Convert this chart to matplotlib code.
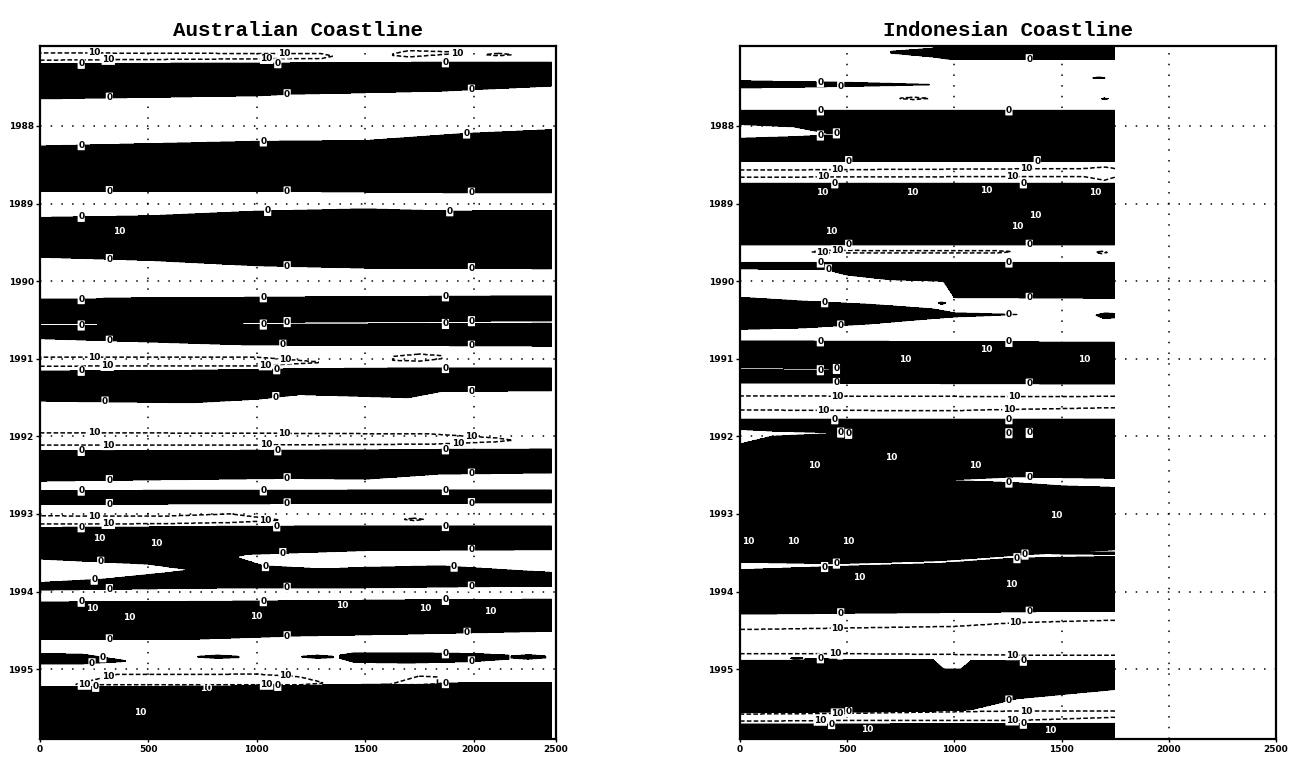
import numpy as np
import matplotlib
matplotlib.use("Agg")
import matplotlib.pyplot as plt

# ---------------------------------------------------------------- data
years = [1988, 1989, 1990, 1991, 1992, 1993, 1994, 1995]
x_grid_vals = [500, 1000, 1500, 2000]
x_tick_labels = ["0", "500", "1000", "1500", "2000", "2500"]

# Each feature: (x nodes, upper time edge, lower time edge)
# ---- Australian coastline
aus_xmax = 2360
aus_black = [
    ([0, 1000, 1150, 1850, 2360], [1987.20, 1987.19, 1987.19, 1987.18, 1987.18], [1987.65, 1987.61, 1987.59, 1987.55, 1987.485]),
    ([0, 1000, 1500, 1950, 2360], [1988.26, 1988.20, 1988.19, 1988.10, 1988.05], [1988.84, 1988.84, 1988.85, 1988.86, 1988.86]),
    ([0, 500, 1000, 1500, 1900, 2360], [1989.18, 1989.16, 1989.10, 1989.07, 1989.10, 1989.09], [1989.69, 1989.73, 1989.80, 1989.83, 1989.83, 1989.84]),
    ([0, 260, 300, 900, 940, 2360], [1990.23, 1990.23, 1990.22, 1990.21, 1990.21, 1990.19], [1990.54, 1990.54, 1990.60, 1990.60, 1990.53, 1990.51]),
    ([0, 950, 2360], [1990.575, 1990.56, 1990.545], [1990.74, 1990.82, 1990.835]),
    ([0, 700, 1000, 1200, 1700, 1850, 2360], [1991.16, 1991.15, 1991.14, 1991.13, 1991.12, 1991.12, 1991.12], [1991.545, 1991.565, 1991.52, 1991.46, 1991.50, 1991.42, 1991.41]),
    ([0, 1150, 1500, 1840, 2360], [1992.19, 1992.18, 1992.175, 1992.17, 1992.165], [1992.575, 1992.54, 1992.55, 1992.485, 1992.47]),
    ([0, 2360], [1992.70, 1992.69], [1992.875, 1992.855]),
    ([0, 500, 700, 760, 850, 900, 950, 1500, 2360], [1993.175, 1993.17, 1993.165, 1993.165, 1993.16, 1993.16, 1993.16, 1993.155, 1993.155], [1993.58, 1993.645, 1993.72, 1993.78, 1993.78, 1993.555, 1993.52, 1993.47, 1993.46]),
    ([0, 300, 600, 700, 760, 850, 900, 950, 1030, 1300, 1500, 1850, 2230, 2360], [1993.885, 1993.84, 1993.755, 1993.72, 1993.68, 1993.58, 1993.555, 1993.60, 1993.67, 1993.71, 1993.69, 1993.67, 1993.735, 1993.755], [1993.98, 1993.97, 1993.96, 1993.96, 1993.96, 1993.95, 1993.95, 1993.95, 1993.95, 1993.95, 1993.95, 1993.94, 1993.93, 1993.93]),
    ([0, 680, 1200, 1680, 2360], [1994.135, 1994.13, 1994.12, 1994.11, 1994.10], [1994.615, 1994.615, 1994.57, 1994.547, 1994.51]),
    ([0, 200, 390], [1994.80, 1994.81, 1994.89], [1994.93, 1994.93, 1994.90]),
    ([730, 820, 915], [1994.835, 1994.82, 1994.835], [1994.845, 1994.86, 1994.85]),
    ([1210, 1280, 1350], [1994.835, 1994.82, 1994.835], [1994.845, 1994.86, 1994.85]),
    ([1385, 1450, 1700, 2000, 2160], [1994.82, 1994.79, 1994.79, 1994.80, 1994.82], [1994.86, 1994.91, 1994.92, 1994.90, 1994.87]),
    ([2175, 2250, 2330], [1994.83, 1994.815, 1994.83], [1994.855, 1994.87, 1994.855]),
    ([0, 1100, 2000, 2360], [1995.23, 1995.215, 1995.175, 1995.175], [1996.2, 1996.2, 1996.2, 1996.2]),
]
aus_white = []
aus_trough = [
    ([0, 100, 1300, 1350], [1987.06, 1987.06, 1987.07, 1987.10], [1987.15, 1987.15, 1987.13, 1987.10]),
    ([1630, 1700, 1950], [1987.07, 1987.03, 1987.05], [1987.09, 1987.11, 1987.06]),
    ([2050, 2115, 2180], [1987.08, 1987.065, 1987.08], [1987.08, 1987.095, 1987.08]),
    ([0, 1000, 1280], [1990.98, 1990.98, 1991.04], [1991.095, 1991.09, 1991.05]),
    ([1630, 1750, 1850], [1990.97, 1990.94, 1990.96], [1991.02, 1991.03, 1991.00]),
    ([0, 1000, 1800, 2100, 2180], [1991.955, 1991.96, 1991.97, 1992.02, 1992.05], [1992.11, 1992.11, 1992.10, 1992.07, 1992.05]),
    ([0, 555, 880, 1110], [1993.025, 1993.03, 1993.00, 1993.08], [1993.13, 1993.125, 1993.11, 1993.08]),
    ([1680, 1725, 1770], [1993.07, 1993.055, 1993.07], [1993.07, 1993.085, 1993.07]),
    ([170, 350, 1000, 1200, 1300], [1995.19, 1995.07, 1995.065, 1995.10, 1995.17], [1995.20, 1995.20, 1995.20, 1995.20, 1995.18]),
    ([1620, 1750, 1830], [1995.19, 1995.09, 1995.10], [1995.20, 1995.20, 1995.19]),
]
aus_hot = [(370, 1989.40), (277, 1993.36), (540, 1993.42), (221, 1994.26), (415, 1994.38),
           (1000, 1994.36), (1398, 1994.22), (1780, 1994.26), (2076, 1994.30), (770, 1995.30),
           (461, 1995.60)]

# ---- Indonesian coastline
indo_xmax = 1749
indo_black = [
    ([700, 900, 980, 1749], [1987.04, 1987.00, 1986.80, 1986.80], [1987.06, 1987.11, 1987.14, 1987.14]),
    ([0, 500, 880], [1987.42, 1987.44, 1987.465], [1987.51, 1987.49, 1987.47]),
    ([1640, 1675, 1710], [1987.38, 1987.37, 1987.38], [1987.38, 1987.39, 1987.38]),
    ([1685, 1700, 1715], [1987.65, 1987.64, 1987.65], [1987.65, 1987.66, 1987.65]),
    ([0, 1749], [1987.80, 1987.80], [1988.45, 1988.45]),
    ([0, 1749], [1988.74, 1988.74], [1989.53, 1989.53]),
    ([0, 400, 500, 700, 950, 1000, 1749], [1989.76, 1989.76, 1989.76, 1989.76, 1989.76, 1989.76, 1989.76], [1989.84, 1989.85, 1989.92, 1989.98, 1990.00, 1990.21, 1990.22]),
    ([0, 300, 600, 900, 1000, 1290], [1990.21, 1990.26, 1990.30, 1990.36, 1990.41, 1990.43], [1990.62, 1990.60, 1990.55, 1990.48, 1990.46, 1990.43]),
    ([1660, 1700, 1749], [1990.44, 1990.41, 1990.42], [1990.44, 1990.48, 1990.47]),
    ([925, 940, 960], [1990.28, 1990.27, 1990.28], [1990.28, 1990.30, 1990.28]),
    ([0, 1749], [1990.77, 1990.79], [1991.31, 1991.325]),
    ([0, 435, 933, 1290, 1749], [1991.78, 1991.78, 1991.78, 1991.78, 1991.78], [1993.62, 1993.64, 1993.60, 1993.53, 1993.46]),
    ([1270, 1500, 1749], [1993.49, 1993.49, 1993.49], [1993.49, 1993.515, 1993.52]),
    ([0, 435, 933, 1290, 1749], [1993.72, 1993.68, 1993.64, 1993.57, 1993.55], [1994.29, 1994.28, 1994.27, 1994.26, 1994.25]),
    ([230, 260, 300], [1994.86, 1994.85, 1994.86], [1994.86, 1994.87, 1994.86]),
    ([300, 380, 450], [1994.87, 1994.86, 1994.87], [1994.87, 1994.885, 1994.87]),
    ([0, 600, 900, 950, 1030, 1080, 1290, 1749], [1994.89, 1994.88, 1994.88, 1995.00, 1995.00, 1994.89, 1994.89, 1994.89], [1995.56, 1995.55, 1995.54, 1995.53, 1995.53, 1995.52, 1995.38, 1995.26]),
    ([0, 1749], [1995.71, 1995.70], [1996.2, 1996.2]),
]
indo_white = [
    ([0, 250, 400, 580], [1987.98, 1988.01, 1988.09, 1988.11], [1988.16, 1988.14, 1988.12, 1988.11]),
    ([0, 340, 535], [1991.115, 1991.12, 1991.14], [1991.14, 1991.15, 1991.14]),
    ([0, 150, 400, 1367], [1991.91, 1991.93, 1991.95, 1991.955], [1992.10, 1992.00, 1991.97, 1991.96]),
    ([960, 1290, 1500, 1749], [1992.56, 1992.52, 1992.53, 1992.54], [1992.57, 1992.60, 1992.64, 1992.66]),
]
indo_trough = [
    ([740, 810, 880], [1987.645, 1987.63, 1987.645], [1987.645, 1987.66, 1987.645]),
    ([0, 1600, 1700, 1749], [1988.57, 1988.55, 1988.53, 1988.55], [1988.66, 1988.65, 1988.70, 1988.66]),
    ([330, 400, 1200, 1270], [1989.62, 1989.605, 1989.61, 1989.62], [1989.62, 1989.635, 1989.635, 1989.62]),
    ([1660, 1685, 1710], [1989.63, 1989.615, 1989.63], [1989.63, 1989.645, 1989.63]),
    ([0, 1000, 1100, 1749], [1991.48, 1991.485, 1991.49, 1991.485], [1991.66, 1991.67, 1991.66, 1991.63]),
    ([0, 500, 1000, 1300, 1749], [1994.49, 1994.47, 1994.45, 1994.40, 1994.37], [1994.80, 1994.80, 1994.81, 1994.82, 1994.82]),
    ([0, 500, 1000, 1290, 1749], [1995.58, 1995.57, 1995.55, 1995.54, 1995.54], [1995.67, 1995.66, 1995.66, 1995.66, 1995.62]),
]
indo_hot = [(387, 1988.90), (807, 1988.90), (1150, 1988.88), (1660, 1988.90), (1432, 1989.19),
            (476, 1989.39), (1343, 1989.33), (825, 1991.05), (1150, 1990.92), (1660, 1991.05),
            (396, 1992.41), (709, 1992.32), (1150, 1992.41), (1478, 1993.06), (90, 1993.39),
            (300, 1993.39), (560, 1993.39), (560, 1993.86), (1320, 1993.95), (1450, 1995.84),
            (600, 1995.82)]

# ---------------------------------------------------------------- field
T0, T1, DT, DX = 1986.85, 1996.05, 0.004, 5.0
HOT_DX, HOT_DT = 85.0, 0.045


def build_field(xmax, black, white, trough, hot):
    x = np.linspace(0, xmax, int(round(xmax / DX)) + 1)
    t = np.arange(T0, T1, DT)
    F = np.full((t.size, x.size), -5.0)

    def paint(feats, val):
        for xs, top, bot in feats:
            inx = (x >= xs[0]) & (x <= xs[-1])
            tt = np.interp(x, xs, top)
            bb = np.interp(x, xs, bot)
            m = inx[None, :] & (t[:, None] >= tt[None, :]) & (t[:, None] <= bb[None, :])
            F[m] = val

    paint(black, 5.0)
    paint(white, -5.0)
    paint(trough, -20.0)
    for xc, tc in hot:
        m = ((x[None, :] - xc) / HOT_DX) ** 2 + ((t[:, None] - tc) / HOT_DT) ** 2 <= 1.0
        F[m] = 20.0
    return x, t, F


def style_labels(texts, color, box):
    for tx in texts:
        tx.set_rotation(0)
        tx.set_fontweight("bold")
        tx.set_color(color)
        tx.set_zorder(6)
        if box:
            tx.set_bbox(dict(boxstyle="round,pad=0.06", fc="white", ec="none"))


def draw_panel(ax, title, xmax, xlim_max, black, white, trough, hot, columns):
    x, t, F = build_field(xmax, black, white, trough, hot)
    ax.contourf(x, t, F, levels=[-100, 0, 100], colors=["white", "black"], zorder=1)
    ax.contour(x, t, F, levels=[0], colors="black", linewidths=0.8, zorder=2)
    ax.contour(x, t, F, levels=[-10], colors="black", linewidths=1.1,
               linestyles=[(0, (3, 1.5))], zorder=2)

    labels = []
    for a, b in columns:
        sel = (x >= a) & (x <= b)
        cs = ax.contour(x[sel], t, F[:, sel], levels=[-10, 0], colors="k", linewidths=0)
        texts = ax.clabel(cs, fmt={-10: "10", 0: "0"}, fontsize=6.5, inline=False)
        style_labels(texts, "black", True)
        labels += list(texts)
    cs = ax.contour(x, t, F, levels=[10], colors="k", linewidths=0)
    texts = ax.clabel(cs, fmt={10: "10"}, fontsize=6.5, inline=False)
    style_labels(texts, "white", False)
    labels += list(texts)

    for yv in years:
        ax.axhline(yv, color="black", lw=1.1, ls=(0, (1, 6)), zorder=3)
    for xv in x_grid_vals:
        ax.axvline(xv, color="black", lw=1.1, ls=(0, (1, 6)), zorder=3)

    ax.set_xlim(0, xlim_max)
    ax.set_ylim(1995.90, 1986.97)
    ax.set_xticks([0] + x_grid_vals + [xlim_max])
    ax.set_xticklabels(x_tick_labels)
    ax.set_yticks(years)
    ax.set_yticklabels([str(y) for y in years])
    for lab in ax.get_xticklabels() + ax.get_yticklabels():
        lab.set_fontweight("bold")
        lab.set_fontsize(6.5)
    ax.tick_params(axis="y", length=3, width=1, pad=1.5)
    ax.tick_params(axis="x", length=2, width=1, pad=2)
    for s in ax.spines.values():
        s.set_linewidth(1.6)
        s.set_zorder(7)
    ax.set_title(title, fontfamily="Liberation Mono", fontweight="bold", fontsize=15, pad=7)
    return labels


def separate(fig, ax, labels):
    """Nudge overlapping contour labels sideways so they do not cover each other."""
    fig.canvas.draw()
    r = fig.canvas.get_renderer()
    for _ in range(4):
        moved = False
        boxes = [tx.get_window_extent(r).expanded(1.05, 1.0) for tx in labels]
        for i in range(len(labels)):
            for j in range(i + 1, len(labels)):
                if boxes[i].overlaps(boxes[j]):
                    dx = boxes[i].x1 - boxes[j].x0 + 1.5
                    px, py = ax.transData.transform(labels[j].get_position())
                    labels[j].set_position(ax.transData.inverted().transform((px + dx, py)))
                    boxes[j] = labels[j].get_window_extent(r).expanded(1.05, 1.0)
                    moved = True
        if not moved:
            break


W, H = 1293, 757
fig = plt.figure(figsize=(W / 100, H / 100), dpi=100)
axL = fig.add_axes([40 / W, 18 / H, 516 / W, 693 / H])
axR = fig.add_axes([740 / W, 18 / H, 536 / W, 693 / H])

labL = draw_panel(axL, "Australian Coastline", aus_xmax, 2380, aus_black, aus_white, aus_trough,
                  aus_hot, [(180, 330), (1020, 1150), (1860, 2000)])
labR = draw_panel(axR, "Indonesian Coastline", indo_xmax, 2500, indo_black, indo_white, indo_trough,
                  indo_hot, [(360, 480), (1240, 1360)])
separate(fig, axL, labL)
separate(fig, axR, labR)

fig.savefig("out.png", dpi=100)
